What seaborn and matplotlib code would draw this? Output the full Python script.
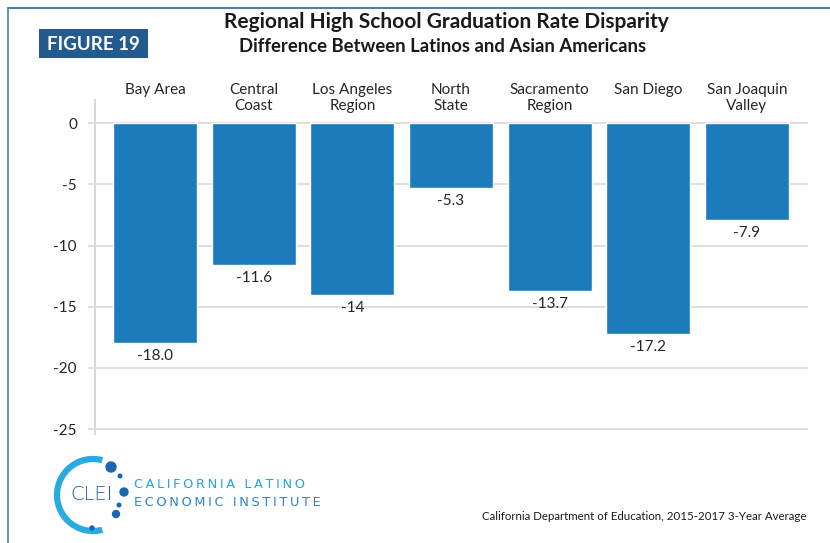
import seaborn as sns
import matplotlib.pyplot as plt
import pandas as pd
from matplotlib.lines import Line2D
from matplotlib.patches import Rectangle, Arc, Circle

# Data
regions = ["Bay Area", "Central\nCoast", "Los Angeles\nRegion", "North\nState",
           "Sacramento\nRegion", "San Diego", "San Joaquin\nValley"]
disparity = [-18.0, -11.6, -14.0, -5.3, -13.7, -17.2, -7.9]
value_labels = ["-18.0", "-11.6", "-14", "-5.3", "-13.7", "-17.2", "-7.9"]
yticks = [0, -5, -10, -15, -20, -25]

df = pd.DataFrame({"region": regions, "disparity": disparity})

sns.set_theme(style="white")
plt.rcParams['font.family'] = ['Lato', 'DejaVu Sans']

W, H = 830, 543
fig = plt.figure(figsize=(W / 100, H / 100), dpi=100)

# main axes in pixel layout
ax = fig.add_axes([95 / W, 1 - 434 / H, (808 - 95) / W, (434 - 100) / H])
sns.barplot(data=df, x="region", y="disparity", color="#1c7bba", saturation=1,
            width=0.85, ax=ax, zorder=3)

ax.set_ylim(-25.4, 1.9)
ax.set_xlim(-0.61, 6.62)
ax.set_yticks(yticks)
ax.set_yticklabels([str(t) for t in yticks], fontsize=11, color="#262626")
ax.yaxis.grid(True, color="#d9d9d9", linewidth=1.2, zorder=0)
ax.tick_params(axis="y", length=5, color="#d9d9d9", width=1.2, pad=8, left=True)
ax.set_xticks([])
ax.set_xlabel("")
ax.set_ylabel("")
for s in ["top", "right", "bottom"]:
    ax.spines[s].set_visible(False)
ax.spines["left"].set_color("#d9d9d9")
ax.spines["left"].set_linewidth(1.5)

# category labels above the plot
for i, name in enumerate(regions):
    ax.annotate(name, xy=(i, 1), xycoords=("data", "axes fraction"),
                xytext=(0, 17), textcoords="offset pixels",
                ha="center", va="top", fontsize=11, color="#262626",
                linespacing=1.15)

# value labels under bars
for p, lab in zip(ax.patches, value_labels):
    ax.annotate(lab, (p.get_x() + p.get_width() / 2, p.get_y() + p.get_height()
                      if p.get_height() < 0 else p.get_y()),
                xytext=(0, -6), textcoords="offset pixels",
                ha="center", va="top", fontsize=11, color="#262626")

# titles
fig.text(446 / W, 1 - 22 / H, "Regional High School Graduation Rate Disparity",
         ha="center", va="center", fontsize=15, fontweight="bold", color="#1a1a1a")
fig.text(443 / W, 1 - 47 / H, "Difference Between Latinos and Asian Americans",
         ha="center", va="center", fontsize=13.3, fontweight="bold", color="#1a1a1a")

# FIGURE 19 badge
fig.add_artist(Rectangle((39 / W, 1 - 58 / H), 109 / W, 29 / H,
                         transform=fig.transFigure, facecolor="#245b8f",
                         edgecolor="none"))
fig.text(93 / W, 1 - 44 / H, "FIGURE 19", ha="center", va="center",
         fontsize=13.5, fontweight="bold", color="white")

# frame lines
fig.add_artist(Line2D([8 / W, 8 / W], [0, 1 - 8 / H], transform=fig.transFigure,
                      color="#4f7fae", linewidth=1.2))
fig.add_artist(Line2D([8 / W, 1], [1 - 8 / H, 1 - 8 / H], transform=fig.transFigure,
                      color="#4f7fae", linewidth=1.5))

# logo
lx0, ly0, lw, lh = 50, 455, 85, 80
lax = fig.add_axes([lx0 / W, 1 - (ly0 + lh) / H, lw / W, lh / H])
lax.set_xlim(0, lw)
lax.set_ylim(lh, 0)
lax.axis("off")
cx, cy = 93 - lx0, 495 - ly0
lax.add_patch(Arc((cx, cy), 72, 72, theta1=75, theta2=285, color="#29abe2",
                  linewidth=4.5))
for (dx, dy, r) in [(111, 467, 5), (120, 476, 1.8), (124, 492, 4), (119, 505, 1.8),
                    (116, 514, 3.5), (92, 528, 2)]:
    lax.add_patch(Circle((dx - lx0, dy - ly0), r, color="#1b66b0"))
lax.text(cx - 1, cy, "CLEI", ha="center", va="center", fontsize=14,
         color="#1b5ea8", family="DejaVu Sans", fontweight="light")

ts = "\u2009"
fig.text(134 / W, 1 - 484 / H, ts.join("CALIFORNIA LATINO"), ha="left", va="center",
         fontsize=9.3, color="#29a3dc", family="DejaVu Sans")
fig.text(134 / W, 1 - 503 / H, ts.join("ECONOMIC INSTITUTE"), ha="left", va="center",
         fontsize=9.3, color="#2a86c8", family="DejaVu Sans")

# source
fig.text(806 / W, 1 - 516 / H, "California Department of Education, 2015-2017 3-Year Average",
         ha="right", va="center", fontsize=8.3, color="#1a1a1a")

plt.savefig("out.png", dpi=100)
